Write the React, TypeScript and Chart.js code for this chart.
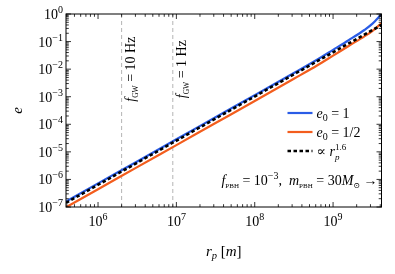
import React, { useEffect, useRef } from 'react';
import { Chart, registerables } from 'chart.js';
Chart.register(...registerables);

// ---- data ----
const rValues = [3.9e5, 1e6, 3.16e6, 1e7, 3.16e7, 1e8, 3.16e8, 6.31e8, 1e9, 1.58e9, 2.51e9, 3.16e9, 4.15e9];
const eBlue = [1.58e-7, 7.2e-7, 4.5e-6, 2.86e-5, 1.8e-4, 1.14e-3, 7.2e-3, 0.0224, 0.0501, 0.112, 0.263, 0.437, 1.0];
const eOrange = [9.8e-8, 4.4e-7, 2.8e-6, 1.76e-5, 1.11e-4, 7.0e-4, 4.47e-3, 0.0138, 0.0309, 0.0692, 0.155, 0.24, 0.468];
const rPow = [3.9e5, 4.15e9];
const ePow = [1.41e-7, 0.4];
const rGW = [2.0e6, 9.0e6];
const gwLabels = ['10', '1'];
const xRange = [3.9e5, 4.15e9];
const yRange = [1e-7, 1];
const legendLabels = ['e0 = 1', 'e0 = 1/2', '∝ r_p^1.6'];

const BLUE = '#2a5ce6';
const ORANGE = '#f35d1d';
const FF = '"Liberation Serif", "DejaVu Serif", serif';

type Seg = { t: string; it?: boolean; sz: number; dy?: number; noAdv?: boolean };

function segW(ctx: CanvasRenderingContext2D, s: Seg) {
  ctx.font = `${s.it ? 'italic ' : ''}${s.sz}px ${FF}`;
  return ctx.measureText(s.t).width;
}
function richWidth(ctx: CanvasRenderingContext2D, segs: Seg[]) {
  let w = 0;
  for (const s of segs) if (!s.noAdv) w += segW(ctx, s);
  return w;
}
function drawRich(ctx: CanvasRenderingContext2D, segs: Seg[], x: number, y: number, align: 'left' | 'center' | 'right') {
  const w = richWidth(ctx, segs);
  let cx = align === 'left' ? x : align === 'center' ? x - w / 2 : x - w;
  ctx.textAlign = 'left';
  ctx.textBaseline = 'alphabetic';
  for (const s of segs) {
    const sw = segW(ctx, s);
    ctx.fillText(s.t, cx, y + (s.dy || 0));
    if (!s.noAdv) cx += sw;
  }
}

const sup = (t: string): Seg => ({ t, sz: 10, dy: -6 });

const decoPlugin = {
  id: 'deco',
  afterDraw(chart: any) {
    const { ctx, chartArea: ca, scales } = chart;
    const xs = scales.x;
    const ys = scales.y;
    ctx.save();
    ctx.fillStyle = '#000';
    ctx.strokeStyle = '#000';
    // frame
    ctx.lineWidth = 1;
    ctx.strokeRect(ca.left, ca.top, ca.right - ca.left, ca.bottom - ca.top);
    // ticks
    ctx.lineWidth = 0.8;
    ctx.beginPath();
    for (let k = Math.floor(Math.log10(xRange[0])); k <= Math.ceil(Math.log10(xRange[1])); k++) {
      for (let m = 1; m <= 9; m++) {
        const v = m * Math.pow(10, k);
        if (v < xRange[0] * 0.999 || v > xRange[1] * 1.001) continue;
        const px = xs.getPixelForValue(v);
        const len = m === 1 ? 5 : 2.8;
        ctx.moveTo(px, ca.bottom); ctx.lineTo(px, ca.bottom - len);
        ctx.moveTo(px, ca.top); ctx.lineTo(px, ca.top + len);
      }
    }
    for (let k = -7; k <= 0; k++) {
      for (let m = 1; m <= 9; m++) {
        const v = m * Math.pow(10, k);
        if (v < yRange[0] * 0.999 || v > yRange[1] * 1.001) continue;
        const py = ys.getPixelForValue(v);
        const len = m === 1 ? 5 : 2.8;
        ctx.moveTo(ca.left, py); ctx.lineTo(ca.left + len, py);
        ctx.moveTo(ca.right, py); ctx.lineTo(ca.right - len, py);
      }
    }
    ctx.stroke();

    // y tick labels
    for (let k = -7; k <= 0; k++) {
      const py = ys.getPixelForValue(Math.pow(10, k));
      drawRich(ctx, [{ t: '10', sz: 14 }, sup(k === 0 ? '0' : '−' + -k)], ca.left - 3, py + 5, 'right');
    }
    // x tick labels
    for (let k = 6; k <= 9; k++) {
      const px = xs.getPixelForValue(Math.pow(10, k));
      drawRich(ctx, [{ t: '10', sz: 14 }, sup(String(k))], px, ca.bottom + 19, 'center');
    }
    // axis titles
    drawRich(ctx, [
      { t: 'r', it: true, sz: 15 },
      { t: 'p', it: true, sz: 10.5, dy: 3 },
      { t: ' [', sz: 15 },
      { t: 'm', it: true, sz: 15 },
      { t: ']', sz: 15 },
    ], (ca.left + ca.right) / 2, ca.bottom + 49, 'center');
    ctx.save();
    ctx.translate(22, (ca.top + ca.bottom) / 2);
    ctx.rotate(-Math.PI / 2);
    drawRich(ctx, [{ t: 'e', it: true, sz: 15 }], 0, 0, 'center');
    ctx.restore();

    // f_GW annotations
    rGW.forEach((r, i) => {
      const px = xs.getPixelForValue(r);
      ctx.save();
      ctx.translate(px + 13, ys.getPixelForValue(1e-2));
      ctx.rotate(-Math.PI / 2);
      drawRich(ctx, [
        { t: 'f', it: true, sz: 14 },
        { t: 'GW', sz: 7.5, dy: 3 },
        { t: ' = ' + gwLabels[i] + ' Hz', sz: 14 },
      ], 0, 0, 'center');
      ctx.restore();
    });

    // bottom-right annotation
    drawRich(ctx, [
      { t: 'f', it: true, sz: 14 },
      { t: 'PBH', sz: 7, dy: 3 },
      { t: ' = 10', sz: 14 },
      sup('−3'),
      { t: ',  ', sz: 14 },
      { t: 'm', it: true, sz: 14 },
      { t: 'PBH', sz: 7, dy: 3 },
      { t: ' = 30', sz: 14 },
      { t: 'M', it: true, sz: 14 },
      { t: '⊙', sz: 8, dy: 3 },
      { t: ' →', sz: 14 },
    ], ca.right - 4, ca.bottom - 22, 'right');

    // legend
    const hx0 = ca.right - 94;
    const hx1 = ca.right - 69;
    const tx = ca.right - 65;
    const rows = [ca.top + 99, ca.top + 118, ca.top + 137];
    const ds = chart.data.datasets;
    [0, 1, 2].forEach((i) => {
      const d = ds[i];
      ctx.save();
      ctx.strokeStyle = d.borderColor;
      ctx.lineWidth = d.borderWidth;
      ctx.setLineDash(d.borderDash || []);
      ctx.beginPath();
      ctx.moveTo(hx0, rows[i]);
      ctx.lineTo(hx1, rows[i]);
      ctx.stroke();
      ctx.restore();
    });
    drawRich(ctx, [{ t: 'e', it: true, sz: 14 }, { t: '0', sz: 10, dy: 3 }, { t: ' = 1', sz: 14 }], tx, rows[0] + 5, 'left');
    drawRich(ctx, [{ t: 'e', it: true, sz: 14 }, { t: '0', sz: 10, dy: 3 }, { t: ' = 1/2', sz: 14 }], tx, rows[1] + 5, 'left');
    drawRich(ctx, [
      { t: '∝ ', sz: 14 },
      { t: 'r', it: true, sz: 14 },
      { t: 'p', it: true, sz: 9, dy: 4, noAdv: true },
      { t: '1.6', sz: 9, dy: -6 },
    ], tx, rows[2] + 5, 'left');
    ctx.restore();
  },
};

export default function App() {
  const ref = useRef<HTMLCanvasElement>(null);
  useEffect(() => {
    if (!ref.current) return;
    const mk = (xs: number[], ys: number[]) => xs.map((x, i) => ({ x, y: ys[i] }));
    const chart = new Chart(ref.current, {
      type: 'line',
      data: {
        datasets: [
          { label: legendLabels[0], data: mk(rValues, eBlue), borderColor: BLUE, borderWidth: 2.2, pointRadius: 0, cubicInterpolationMode: 'monotone', order: 1 } as any,
          { label: legendLabels[1], data: mk(rValues, eOrange), borderColor: ORANGE, borderWidth: 2.2, pointRadius: 0, cubicInterpolationMode: 'monotone', order: 2 } as any,
          { label: legendLabels[2], data: mk(rPow, ePow), borderColor: '#000', borderWidth: 2.6, borderDash: [3.5, 2.5], pointRadius: 0, order: 0 } as any,
          ...rGW.map((r) => ({ label: 'gw', data: [{ x: r, y: yRange[0] }, { x: r, y: yRange[1] }], borderColor: '#b4b4b4', borderWidth: 1, borderDash: [4, 3], pointRadius: 0, order: 3 } as any)),
        ],
      },
      options: {
        animation: false,
        responsive: false,
        devicePixelRatio: 1,
        layout: { padding: { left: 66, top: 14, right: 13.5, bottom: 67 } },
        plugins: { legend: { display: false }, tooltip: { enabled: false } },
        scales: {
          x: { type: 'logarithmic', min: xRange[0], max: xRange[1], display: false },
          y: { type: 'logarithmic', min: yRange[0], max: yRange[1], display: false },
        },
      },
      plugins: [decoPlugin],
    });
    return () => chart.destroy();
  }, []);
  return (
    <div style={{ position: 'fixed', left: 0, top: 0, width: 395, height: 274, background: '#fff' }}>
      <canvas ref={ref} width={395} height={274} style={{ display: 'block' }} />
    </div>
  );
}
